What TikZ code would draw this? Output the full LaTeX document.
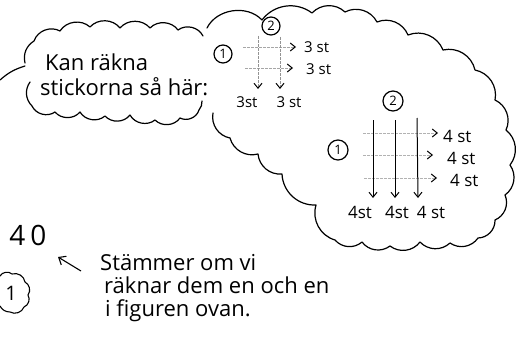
\documentclass[tikz,border=0pt]{standalone}
\usepackage{fontspec}
\setmainfont{Open Sans}
\usetikzlibrary{arrows.meta}
\begin{document}
\begin{tikzpicture}[x=1pt,y=-1pt,
  cloudline/.style={line width=1.2pt,line cap=round,line join=round},
  hand/.style={font=\fontsize{22}{24}\selectfont,inner sep=0pt},
  smalllab/.style={font=\fontsize{15}{17}\selectfont,inner sep=0pt},
  biglab/.style={font=\fontsize{17}{19}\selectfont,inner sep=0pt},
  circnum/.style={draw,circle,line width=1.2pt,inner sep=1pt,minimum size=18pt,font=\fontsize{13}{14}\selectfont},
  pencil/.style={draw=gray!70,line width=0.8pt,dash pattern=on 3pt off 1pt,-{Straight Barb[length=5pt,width=8pt,color=black,line width=1pt]}},
  inkarrow/.style={line width=1pt,-{Straight Barb[length=5pt,width=8pt]}},
]
\useasboundingbox (0,0) rectangle (518,337);

% small speech cloud (open at right, joins the big one)
\draw[cloudline,bend right=50] (203,36) to (178,30) to (150,28) to (120,28) to (90,27) to (60,31) to (34,41) to[bend right=35] (25,63);
\draw[cloudline,bend right=40] (30,82) to (32,106);
\draw[cloudline,bend right=50] (32,106) to (55,112) to (80,112) to (105,116) to (130,115) to (155,120) to (180,118) to (199,110) to[bend right=20] (202,101);
% tail
\coordinate (tailA) at (0,80);
\coordinate (tailB) at (25,66);
\draw[cloudline] (tailA) to[bend left=12] (tailB);

% big thought cloud
\draw[cloudline,bend left=45] (207,28) to[bend left=55] (262,20) to (312,13) to (345,12) to (377,22) to (408,35) to (443,50) to (475,70) to (495,100) to (506,130) to (510,165) to (505,195) to (495,220) to (478,238) to (450,243) to (420,242) to (390,246) to (362,242) to (335,240) to (316,205) to (282,174) to (258,154) to (230,138) to (213,113);

% texts in small cloud
\node[hand,anchor=base west] (t1) at (45,70) {Kan räkna};
\node[hand,anchor=base west] (t2) at (40,95) {stickorna så här:};

% small grid
\node[circnum] (c1a) at (223,54) {1};
\node[circnum] (c2a) at (271,26) {2};
\coordinate (sh1a) at (243,47); \coordinate (sh1b) at (296,47);
\coordinate (sh2a) at (245,68); \coordinate (sh2b) at (293,68);
\coordinate (sv1a) at (258,36); \coordinate (sv1b) at (258,89);
\coordinate (sv2a) at (280,37); \coordinate (sv2b) at (280,89);
\draw[pencil] (sh1a) -- (sh1b);
\draw[pencil] (sh2a) -- (sh2b);
\draw[pencil,draw=gray!85] (sv1a) -- (sv1b);
\draw[pencil,draw=gray!85] (sv2a) -- (sv2b);
\node[smalllab,anchor=west] (sl1) at (304,47) {3 st};
\node[smalllab,anchor=west] (sl2) at (306,69) {3 st};
\node[smalllab] (sl3) at (247,102) {3st};
\node[smalllab] (sl4) at (289,102) {3 st};

% big grid
\node[circnum,minimum size=20pt] (c1b) at (338,150) {1};
\node[circnum,minimum size=20pt] (c2b) at (393,101) {2};
\coordinate (bh1a) at (363,133); \coordinate (bh1b) at (438,133);
\coordinate (bh2a) at (363,155); \coordinate (bh2b) at (433,155);
\coordinate (bh3a) at (364,178); \coordinate (bh3b) at (437,178);
\coordinate (bv1a) at (373,120); \coordinate (bv1b) at (373,198);
\coordinate (bv2a) at (395,120); \coordinate (bv2b) at (395,198);
\coordinate (bv3a) at (417,118); \coordinate (bv3b) at (418,198);
\draw[pencil,draw=gray!60] (bh1a) -- (bh1b);
\draw[pencil,draw=gray!60] (bh2a) -- (bh2b);
\draw[pencil,draw=gray!60] (bh3a) -- (bh3b);
\draw[inkarrow] (bv1a) -- (bv1b);
\draw[inkarrow] (bv2a) -- (bv2b);
\draw[inkarrow] (bv3a) -- (bv3b);
\node[biglab,anchor=west] (bl1) at (443,136) {4 st};
\node[biglab,anchor=west] (bl2) at (447,158) {4 st};
\node[biglab,anchor=west] (bl3) at (450,180) {4 st};
\node[biglab] (bl4) at (360,212) {4st};
\node[biglab] (bl5) at (397,212) {4st};
\node[biglab] (bl6) at (431,212) {4 st};

% bottom left
\node[font=\fontsize{28}{30}\selectfont,inner sep=0pt] (forty) at (28,235) {4\hspace{5pt}0};
\draw[cloudline,line width=1.1pt,bend left=50] (0,276) to (12,274) to (25,282) to (28,295) to (24,307) to (10,312) to[bend left=30] (0,306);
\node[font=\fontsize{20}{22}\selectfont,inner sep=0pt] (one) at (11,293) {1};

\coordinate (arS) at (81,271);
\coordinate (arE) at (58,257);
\draw[line width=1.1pt,-{Straight Barb[length=6pt,width=10pt]}] (arS) -- (arE);

\node[hand,anchor=base west] (b1) at (100,270) {Stämmer om vi};
\node[hand,anchor=base west] (b2) at (104,293) {räknar dem en och en};
\node[hand,anchor=base west] (b3) at (105,316) {i figuren ovan.};
\end{tikzpicture}
\end{document}
